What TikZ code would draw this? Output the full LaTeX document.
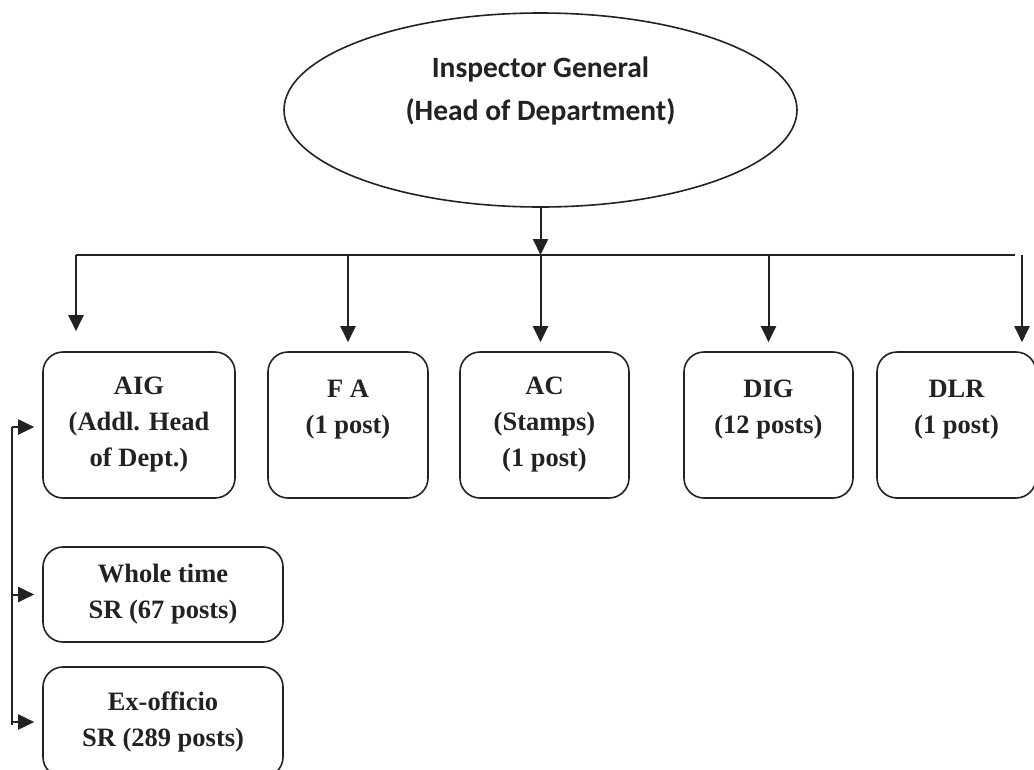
\documentclass[tikz,border=0pt]{standalone}
\usepackage{fontspec}
\setmainfont{Liberation Serif}
\newfontfamily\calfont{Carlito}
\usetikzlibrary{shapes.geometric, arrows.meta, calc, positioning}
\definecolor{inkgray}{rgb}{0.14, 0.13, 0.13}

\begin{document}
\begin{tikzpicture}[x=1pt, y=-1pt]
        \tikzstyle{post}=[draw=inkgray, line width=1.6pt, rounded corners=20pt, inner sep=0pt, align=center, text=inkgray, font=\fontsize{26.5}{36}\selectfont\bfseries]
        \tikzstyle{wire}=[draw=inkgray, line width=2pt]
        \tikzstyle{arr}=[wire, -{Triangle[width=15pt, length=16pt]}]

        \useasboundingbox (0,0) rectangle (1034,769);

        % Head of department
        \node[ellipse, draw=inkgray, line width=1.6pt, minimum width=513pt, minimum height=194pt, inner sep=0pt, align=center, text=inkgray, font=\calfont\fontsize{29.5}{43}\selectfont\bfseries] (ig) at (540.5,110) {Inspector General\\(Head of Department)\\~};

        % Posts under the head
        \node[post, minimum width=192pt, minimum height=146pt] (aig) at (139,425) {AIG\\(Addl. Head\\of Dept.)};
        \node[post, minimum width=160pt, minimum height=146pt] (fa) at (348,425) {F A\\(1 post)\\~};
        \node[post, minimum width=169pt, minimum height=146pt] (ac) at (544.5,425) {AC\\(Stamps)\\(1 post)};
        \node[post, minimum width=169pt, minimum height=146pt] (dig) at (768.5,425) {DIG\\(12 posts)\\~};
        \node[post, minimum width=159pt, minimum height=146pt] (dlr) at (956.5,425) {DLR\\(1 post)\\~};

        % Sub registrars
        \node[post, minimum width=240pt, minimum height=95pt] (wt) at (163,594.5) {Whole time\\SR (67 posts)};
        \node[post, minimum width=240pt, minimum height=110pt] (eo) at (163,722) {Ex-officio\\SR (289 posts)};

        % Bus line
        \coordinate (bus) at (540.5,255);
        \coordinate (busl) at (76,255);
        \coordinate (busr) at (1015,255);
        \coordinate (dlrtop) at (1022,255);

        \draw[arr] (ig.south) -- (bus);
        \draw[wire] (busl) -- (busr);

        % Arrows down to the posts
        \draw[arr, shorten >=20pt] (busl) -- (busl |- aig.north);
        \draw[arr, shorten >=9pt] (fa.north |- bus) -- (fa.north);
        \draw[arr, shorten >=9pt] (bus) -- (bus |- ac.north);
        \draw[arr, shorten >=9pt] (dig.north |- bus) -- (dig.north);
        \draw[arr, shorten >=9pt] (dlrtop) -- (dlrtop |- dlr.north);

        % Feed on the left side
        \coordinate (feed) at (12,427);
        \coordinate (feedend) at (12,725);
        \draw[wire] (feed) -- (feedend);
        \draw[arr, shorten >=8pt] (feed) -- (feed -| aig.west);
        \draw[arr, shorten >=8pt] (feed |- wt.west) -- (wt.west);
        \draw[arr, shorten >=8pt] (feed |- eo.west) -- (eo.west);
    \end{tikzpicture}
\end{document}
